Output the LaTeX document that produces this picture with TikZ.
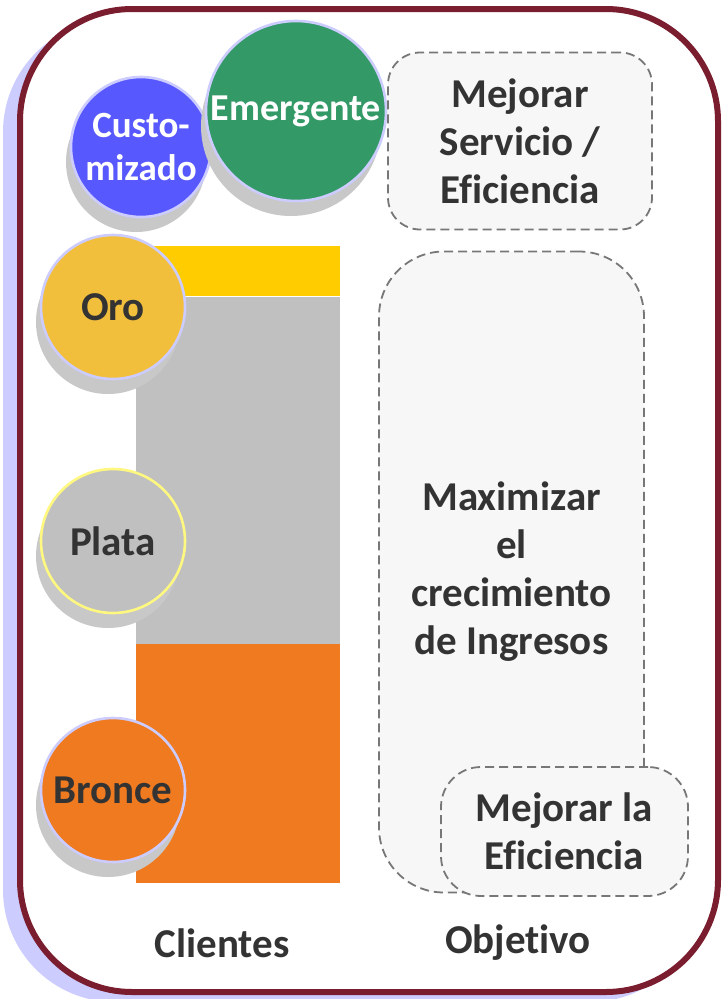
\documentclass[tikz,border=0pt]{standalone}
\usepackage{fontspec}
\setmainfont{Carlito}[Ligatures=NoCommon]
\usepackage{tikz}
\usetikzlibrary{positioning,shadows}

\definecolor{marco}{HTML}{7A1E2F}
\definecolor{lav}{HTML}{CCCCFF}
\definecolor{azul}{HTML}{5858FF}
\definecolor{verde}{HTML}{339966}
\definecolor{oro}{HTML}{F2BF3C}
\definecolor{plata}{HTML}{C0C0C0}
\definecolor{bronce}{HTML}{F07A20}
\definecolor{amarillo}{HTML}{FFCC00}
\definecolor{sombra}{HTML}{C8C8C8}
\definecolor{caja}{HTML}{F7F7F7}
\definecolor{guion}{HTML}{777777}
\definecolor{texto}{HTML}{333333}

\begin{document}
\begin{tikzpicture}[x=1pt, y=-1pt,
        cliente/.style={circle, inner sep=0pt, minimum size=144pt, draw=lav, line width=2.6pt,
            align=center, text=texto, font=\fontsize{41}{46}\selectfont\bfseries,
            general shadow={fill=sombra, shadow xshift=-5pt, shadow yshift=-15pt}},
        objbox/.style={draw=guion, fill=caja, line width=1.8pt, dash pattern=on 9pt off 5pt,
            rectangle, align=center, inner sep=0pt, text=texto,
            font=\fontsize{41}{48}\selectfont\bfseries},
        barra/.style={draw=none, rectangle, inner sep=0pt, minimum width=204pt},
        lbl/.style={text=texto, font=\fontsize{41}{46}\selectfont\bfseries}
    ]
        \useasboundingbox (0,0) rectangle (722,999);

        % marco con sombra
        \fill[lav, rounded corners=112pt] (3,20) rectangle (702,1002);
        \draw[marco, fill=white, line width=6pt, rounded corners=112pt] (20,9) rectangle (718,992);

        % barras
        \node [barra, fill=amarillo, minimum height=50pt, anchor=north west] (baroro) at (136,246) {};
        \node [barra, fill=plata, minimum height=347pt, below=0pt of baroro] (barplata) {};
        \node [barra, fill=bronce, minimum height=239pt, below=0pt of barplata] (barbronce) {};

        % clientes
        \node [cliente, fill=azul, minimum size=140pt, text=white,
               font=\fontsize{37}{43}\selectfont\bfseries] (custom) at (141,147) {Custo-\\mizado};
        \node [cliente, fill=verde, minimum size=180pt, text=white,
               font=\fontsize{38}{43}\selectfont\bfseries] (emergente) at (296,111) {Emergente};
        \node [cliente, fill=oro] (oro) at (113,307) {Oro};
        \node [cliente, fill=plata, draw=yellow!50] (plata) at (113,541) {Plata};
        \node [cliente, fill=bronce] (bronce) at (113,790) {Bronce};

        % objetivos
        \node [objbox, minimum width=264pt, minimum height=177pt, rounded corners=32pt]
            (servicio) at (520,141) {Mejorar\\Servicio /\\Eficiencia};
        \node [objbox, minimum width=265pt, minimum height=641pt, rounded corners=65pt]
            (ingresos) at (511.5,572) {Maximizar\\el\\crecimiento\\de Ingresos};
        \node [objbox, minimum width=247pt, minimum height=129pt, rounded corners=40pt]
            (eficiencia) at (564.5,831.5) {Mejorar la\\Eficiencia};

        \node [lbl] (clientes) at (222,943) {Clientes};
        \node [lbl] (objetivo) at (518,943) {Objetivo};

    \end{tikzpicture}
\end{document}
